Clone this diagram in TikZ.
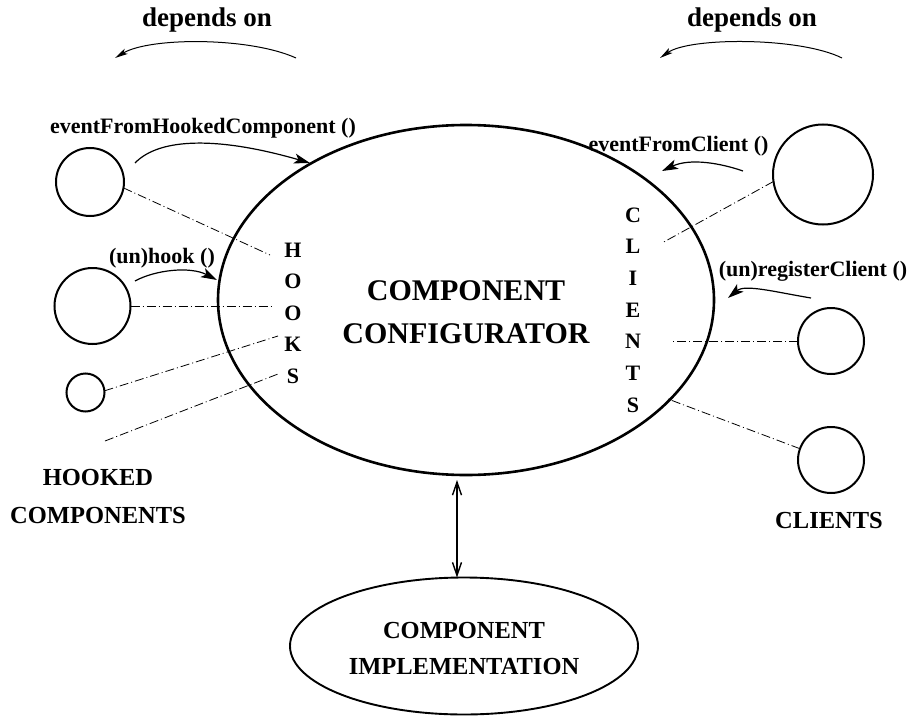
\documentclass[tikz,border=0pt]{standalone}
\usepackage{fontspec}
\setmainfont{Liberation Serif}
\usetikzlibrary{shapes.geometric,arrows.meta}
\begin{document}
\begin{tikzpicture}[x=1pt,y=-1pt,
  lbl/.style={inner sep=0pt, anchor=base, font=\bfseries\fontsize{22}{26}\selectfont},
  big/.style={inner sep=0pt, anchor=base, font=\bfseries\fontsize{30}{36}\selectfont},
  mid/.style={inner sep=0pt, anchor=base, font=\bfseries\fontsize{24.5}{30}\selectfont},
  dep/.style={inner sep=0pt, anchor=base, font=\bfseries\fontsize{27}{32}\selectfont},
  letter/.style={inner sep=0pt, anchor=base, font=\bfseries\fontsize{22}{26}\selectfont},
  compc/.style={circle, draw, line width=2pt, inner sep=0pt, outer sep=0pt, minimum size=#1},
  oval/.style={ellipse, draw, inner sep=0pt, outer sep=0pt},
  link/.style={line width=0.8pt, dash pattern=on 9pt off 3pt on 1pt off 3pt},
  call/.style={line width=1.2pt, -{Stealth[length=16pt,width=10pt,inset=4pt]}},
  depends/.style={line width=1pt, -{Stealth[length=13pt,width=6pt,inset=3pt]}},
  both/.style={line width=1.4pt, {Straight Barb[length=13pt,width=9pt]}-{Straight Barb[length=13pt,width=9pt]}},
]
\useasboundingbox (0,0) rectangle (910,717);

% central configurator
\node[oval, line width=2.6pt, minimum width=496pt, minimum height=350pt] (conf) at (466,300) {};
\node[big] (conf1) at (466,300) {COMPONENT};
\node[big] (conf2) at (466,343) {CONFIGURATOR};

% implementation
\node[oval, line width=1.9pt, minimum width=348pt, minimum height=137pt] (impl) at (464,646) {};
\node[mid] (impl1) at (464,638) {COMPONENT};
\node[mid] (impl2) at (464,674) {IMPLEMENTATION};
\draw[both] ([xshift=-9pt,yshift=-5pt]conf.south) -- ([xshift=-7pt]impl.north);

% vertical labels
\foreach \ch [count=\i] in {H,O,O,K,S}
  \node[letter] (hk\i) at (293,{257+31.6*(\i-1)}) {\ch};
\foreach \ch [count=\i] in {C,L,I,E,N,T,S}
  \node[letter] (cl\i) at (633,{222+31.7*(\i-1)}) {\ch};

% hooked components
\node[compc=68pt] (h1) at (90,182) {};
\node[compc=76pt] (h2) at (92.5,306) {};
\node[compc=38pt] (h3) at (85.5,392.5) {};
\node[mid] (hookedA) at (98,485) {HOOKED};
\node[mid] (hookedB) at (98,523) {COMPONENTS};

% clients
\node[compc=100pt] (c1) at (823,174.5) {};
\node[compc=66pt] (c2) at (831,341) {};
\node[compc=66pt] (c3) at (831,460) {};
\node[mid] (clients) at (829,528) {CLIENTS};

% link ends
\coordinate (lh1) at (270,255);
\coordinate (lh2) at (273,306);
\coordinate (lh3) at (278,336);
\coordinate (lh4a) at (105,441);
\coordinate (lh4b) at (278,374);
\coordinate (lc1) at (662,243);
\coordinate (lc2) at (670,341);
\coordinate (lc3) at (668,399);

\draw[link] (h1.-10) -- (lh1);
\draw[link] (h2.east) -- (lh2);
\draw[link] (h3.5) -- (lh3);
\draw[link] (lh4a) -- (lh4b);
\draw[link] (c1.188) -- (lc1);
\draw[link] (c2.west) -- (lc2);
\draw[link] (c3.160) -- (lc3);

% operation labels and arrows
\node[lbl] (ev1) at (203,133) {eventFromHookedComponent ()};
\node[lbl] (unhook) at (162,263) {(un)hook ()};
\node[lbl] (ev2) at (678.5,151) {eventFromClient ()};
\node[lbl] (reg) at (813,276) {(un)registerClient ()};

\coordinate (e1a) at (135,163);  \coordinate (e1b) at (310,163);
\coordinate (u1a) at (135,281);  \coordinate (u1b) at (217,280);
\coordinate (e2a) at (743,171);  \coordinate (e2b) at (662,171);
\coordinate (r1a) at (811,298);  \coordinate (r1b) at (728,298);

\draw[call] (e1a) .. controls (160,137) and (220,137) .. (e1b);
\draw[call] (u1a) .. controls (155,270) and (190,266) .. (u1b);
\draw[call] (e2a) .. controls (720,163) and (690,158) .. (e2b);
\draw[call] (r1a) .. controls (775,292) and (745,284) .. (r1b);

% dependency direction
\node[dep] (dep1) at (207,27) {depends on};
\node[dep] (dep2) at (752,27) {depends on};
\coordinate (d1a) at (296,58);  \coordinate (d1b) at (115,58);
\coordinate (d2a) at (842,58);  \coordinate (d2b) at (660,58);
\draw[depends] (d1a) .. controls (250,37) and (150,37) .. (d1b);
\draw[depends] (d2a) .. controls (800,37) and (690,37) .. (d2b);
\end{tikzpicture}
\end{document}
